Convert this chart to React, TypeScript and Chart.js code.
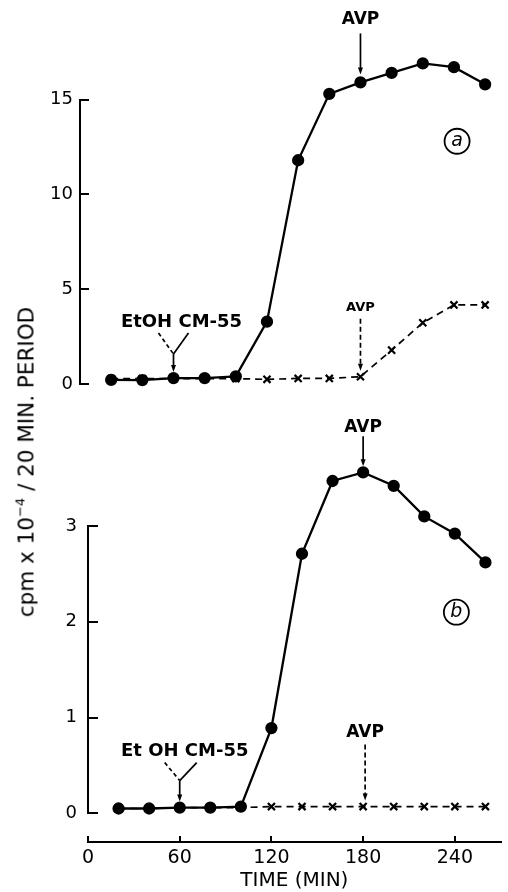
import React, { useEffect, useRef } from 'react';
import { Chart, registerables } from 'chart.js';

Chart.register(...registerables);
Chart.defaults.font.family = "'DejaVu Sans', sans-serif";
Chart.defaults.color = '#000';

// ---- data ----
const timeMin = [20, 40, 60, 80, 100, 120, 140, 160, 180, 200, 220, 240, 260];
const panelASolid = [0.23, 0.22, 0.33, 0.33, 0.42, 3.3, 11.8, 15.3, 15.9, 16.4, 16.9, 16.7, 15.8];
const panelADashed = [0.3, 0.3, 0.3, 0.3, 0.3, 0.26, 0.31, 0.31, 0.4, 1.8, 3.24, 4.18, 4.18];
const panelBSolid = [0.05, 0.05, 0.06, 0.06, 0.07, 0.89, 2.71, 3.47, 3.56, 3.42, 3.1, 2.92, 2.62];
const panelBDashed = [0.05, 0.05, 0.06, 0.06, 0.06, 0.07, 0.07, 0.07, 0.07, 0.07, 0.07, 0.07, 0.07];
const xTickStep = 60;
const yTickStepA = 2.5;
const yLabelStepA = 5;
const yTickStepB = 1;
const avpTime = 180;
const cm55Time = 60;
const avpLabel = 'AVP';
const cm55LabelA = 'EtOH CM-55';
const cm55LabelB = 'Et OH CM-55';
const panelTagA = { x: 242, y: 12.8, text: 'a' };
const panelTagB = { x: 241, y: 2.1, text: 'b' };
const xTitle = 'TIME (MIN)';

const W = 508;
const H = 892;

function pts(ys: number[]) {
  return timeMin.map((t, i) => ({ x: t, y: ys[i] }));
}

function arrowDown(ctx: CanvasRenderingContext2D, x: number, y0: number, tip: number, dashed: boolean) {
  ctx.save();
  ctx.strokeStyle = '#000';
  ctx.fillStyle = '#000';
  ctx.lineWidth = 1.7;
  ctx.setLineDash(dashed ? [5, 3] : []);
  ctx.beginPath();
  ctx.moveTo(x, y0);
  ctx.lineTo(x, tip - 5);
  ctx.stroke();
  ctx.setLineDash([]);
  ctx.beginPath();
  ctx.moveTo(x - 2.5, tip - 7);
  ctx.lineTo(x + 2.5, tip - 7);
  ctx.lineTo(x, tip);
  ctx.closePath();
  ctx.fill();
  ctx.restore();
}

function label(ctx: CanvasRenderingContext2D, s: string, x: number, y: number, font: string) {
  ctx.save();
  ctx.fillStyle = '#000';
  ctx.font = font;
  ctx.textAlign = 'center';
  ctx.textBaseline = 'middle';
  ctx.fillText(s, x, y);
  ctx.restore();
}

function fork(ctx: CanvasRenderingContext2D, x: number, yTop: number, yJoin: number, tip: number, dl: number, dr: number) {
  ctx.save();
  ctx.strokeStyle = '#000';
  ctx.lineWidth = 1.7;
  ctx.setLineDash([4, 3]);
  ctx.beginPath();
  ctx.moveTo(x - dl, yTop);
  ctx.lineTo(x, yJoin);
  ctx.stroke();
  ctx.setLineDash([]);
  ctx.beginPath();
  ctx.moveTo(x + dr, yTop);
  ctx.lineTo(x, yJoin);
  ctx.stroke();
  ctx.restore();
  arrowDown(ctx, x, yJoin, tip, false);
}

function circled(ctx: CanvasRenderingContext2D, s: string, x: number, y: number) {
  ctx.save();
  ctx.strokeStyle = '#000';
  ctx.lineWidth = 1.8;
  ctx.beginPath();
  ctx.arc(x, y, 12.5, 0, Math.PI * 2);
  ctx.stroke();
  ctx.restore();
  label(ctx, s, x, y, "oblique 19px 'DejaVu Sans'");
}

const annotA = {
  id: 'annotA',
  afterDraw(chart: any) {
    const ctx = chart.ctx as CanvasRenderingContext2D;
    const xs = chart.scales.x;
    const ys = chart.scales.y;
    const i = timeMin.indexOf(avpTime);
    const px = xs.getPixelForValue(avpTime);
    const ps = ys.getPixelForValue(panelASolid[i]);
    arrowDown(ctx, px, ps - 49, ps - 8, false);
    label(ctx, avpLabel, px, ps - 63, "bold 17px 'DejaVu Sans'");
    const pd = ys.getPixelForValue(panelADashed[i]);
    arrowDown(ctx, px, pd - 58, pd - 6, true);
    label(ctx, avpLabel, px, pd - 69, "bold 13px 'DejaVu Sans'");
    const j = timeMin.indexOf(cm55Time);
    const cx = xs.getPixelForValue(cm55Time);
    const cy = ys.getPixelForValue(panelASolid[j]);
    fork(ctx, cx, cy - 45, cy - 24, cy - 6, 15, 15);
    label(ctx, cm55LabelA, cx + 8, cy - 56, "bold 18px 'DejaVu Sans'");
    circled(ctx, panelTagA.text, xs.getPixelForValue(panelTagA.x), ys.getPixelForValue(panelTagA.y));
  },
};

const annotB = {
  id: 'annotB',
  afterDraw(chart: any) {
    const ctx = chart.ctx as CanvasRenderingContext2D;
    const xs = chart.scales.x;
    const ys = chart.scales.y;
    const i = timeMin.indexOf(avpTime);
    const px = xs.getPixelForValue(avpTime);
    const ps = ys.getPixelForValue(panelBSolid[i]);
    arrowDown(ctx, px, ps - 36, ps - 6, false);
    label(ctx, avpLabel, px, ps - 45, "bold 17px 'DejaVu Sans'");
    const pd = ys.getPixelForValue(panelBDashed[i]);
    arrowDown(ctx, px + 2, pd - 62, pd - 6, true);
    label(ctx, avpLabel, px + 2, pd - 74, "bold 17px 'DejaVu Sans'");
    const j = timeMin.indexOf(cm55Time);
    const cx = xs.getPixelForValue(cm55Time);
    const cy = ys.getPixelForValue(panelBSolid[j]);
    fork(ctx, cx, cy - 45, cy - 27, cy - 6, 15, 17);
    label(ctx, cm55LabelB, cx + 5, cy - 56, "bold 18px 'DejaVu Sans'");
    circled(ctx, panelTagB.text, xs.getPixelForValue(panelTagB.x), ys.getPixelForValue(panelTagB.y));
  },
};

function solidDs(ys: number[]) {
  return {
    data: pts(ys),
    borderColor: '#000',
    backgroundColor: '#000',
    pointBackgroundColor: '#000',
    pointBorderColor: '#000',
    borderWidth: 2.3,
    pointRadius: 5,
    pointStyle: 'circle',
    tension: 0,
    clip: false as const,
  };
}

function dashedDs(ys: number[]) {
  return {
    data: pts(ys),
    borderColor: '#000',
    backgroundColor: '#000',
    pointBorderColor: '#000',
    borderWidth: 1.7,
    borderDash: [7, 5],
    pointRadius: 5,
    pointBorderWidth: 2.2,
    pointStyle: 'crossRot',
    tension: 0,
    clip: false as const,
  };
}

// an invisible spacer scale stacked above the visible axis, so points above the axis range still lie in the chart area
function spacer(weightPx: number, width: number) {
  return {
    type: 'linear',
    position: 'left',
    stack: 'panel',
    stackWeight: weightPx,
    weight: 10,
    min: 0,
    max: 1,
    afterFit: (s: any) => { s.width = width; },
    ticks: { display: false },
    grid: { display: false, drawTicks: false },
    border: { display: false },
  };
}

export default function App() {
  const refA = useRef<HTMLCanvasElement>(null);
  const refB = useRef<HTMLCanvasElement>(null);

  useEffect(() => {
    const chartA = new Chart(refA.current as HTMLCanvasElement, {
      type: 'line',
      data: { datasets: [dashedDs(panelADashed), solidDs(panelASolid)] as any },
      plugins: [annotA],
      options: {
        responsive: false,
        animation: false,
        events: [],
        layout: { padding: { top: 50, bottom: H - 384.3, left: 0, right: 4.4 } },
        plugins: { legend: { display: false }, tooltip: { enabled: false } },
        scales: {
          x: { type: 'linear', display: false, min: 0, max: 270 },
          y: {
            type: 'linear',
            position: 'left',
            stack: 'panel',
            stackWeight: 284.8,
            weight: 0,
            min: 0,
            max: 15,
            afterFit: (s: any) => { s.width = 80; },
            ticks: {
              stepSize: yTickStepA,
              padding: 16,
              font: { size: 18 },
              color: '#000',
              callback: (v: any) => (Number(v) % yLabelStepA === 0 ? String(v) : ''),
            },
            grid: { drawOnChartArea: false, drawTicks: true, tickLength: -9, color: '#000', lineWidth: 2 },
            border: { display: true, color: '#000', width: 2 },
          },
          ySpacer: spacer(49.5, 80),
        },
      } as any,
    });

    const chartB = new Chart(refB.current as HTMLCanvasElement, {
      type: 'line',
      data: { datasets: [dashedDs(panelBDashed), solidDs(panelBSolid)] as any },
      plugins: [annotB],
      options: {
        responsive: false,
        animation: false,
        events: [],
        layout: { padding: { top: 460, bottom: H - 813.3, left: 0, right: 0 } },
        plugins: { legend: { display: false }, tooltip: { enabled: false } },
        scales: {
          x: {
            type: 'linear',
            position: { y: -0.3 },
            min: 0,
            max: 270,
            afterFit: (s: any) => { s.height = 51; },
            ticks: { stepSize: xTickStep, includeBounds: false, autoSkip: false, maxRotation: 0, padding: 12, font: { size: 19 }, color: '#000' },
            grid: { drawOnChartArea: false, drawTicks: true, tickLength: -7, color: '#000', lineWidth: 2 },
            border: { display: true, color: '#000', width: 2 },
            title: { display: true, text: xTitle, font: { size: 20 }, color: '#000', padding: 0 },
          },
          y: {
            type: 'linear',
            position: 'left',
            stack: 'panel',
            stackWeight: 287.3,
            weight: 0,
            min: 0,
            max: 3,
            afterFit: (s: any) => { s.width = 88; },
            ticks: { stepSize: yTickStepB, padding: 21, font: { size: 18 }, color: '#000' },
            grid: { drawOnChartArea: false, drawTicks: true, tickLength: -10, color: '#000', lineWidth: 2 },
            border: { display: true, color: '#000', width: 2 },
          },
          ySpacer: spacer(66, 88),
        },
      } as any,
    });

    return () => {
      chartA.destroy();
      chartB.destroy();
    };
  }, []);

  return (
    <div style={{ position: 'absolute', left: 0, top: 0, width: W, height: H, background: '#fff' }}>
      <canvas ref={refA} width={W} height={H} style={{ position: 'absolute', left: 0, top: 0 }} />
      <canvas ref={refB} width={W} height={H} style={{ position: 'absolute', left: 0, top: 0 }} />
      <div
        style={{
          position: 'absolute',
          left: 28,
          top: 462,
          transform: 'translate(-50%, -50%) rotate(-90deg)',
          whiteSpace: 'nowrap',
          fontFamily: "'DejaVu Sans', sans-serif",
          fontSize: 21.5,
          lineHeight: '24px',
          color: '#000',
        }}
      >
        cpm x 10<span style={{ fontSize: 13, position: 'relative', top: -9 }}>−4</span> / 20 MIN. PERIOD
      </div>
    </div>
  );
}
